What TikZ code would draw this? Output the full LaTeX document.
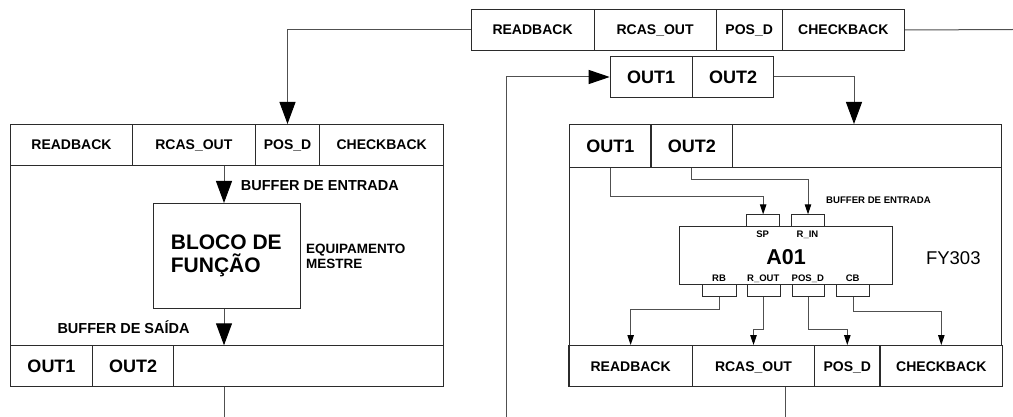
\documentclass[tikz,border=0pt]{standalone}
\usepackage{fontspec}
\setmainfont{Liberation Sans}
\usetikzlibrary{arrows.meta,calc}
\definecolor{boxc}{HTML}{2b2b2b}
\definecolor{linec}{HTML}{505050}
\tikzset{
  cell/.style={draw=boxc, line width=1pt, anchor=north west, inner sep=0pt, align=center,
               text height=10pt, text depth=0pt, font=\bfseries\fontsize{14}{16}\selectfont},
  bigcell/.style={cell, text height=13pt, font=\bfseries\fontsize{18}{20}\selectfont},
  plainbox/.style={draw=boxc, line width=1pt, anchor=north west, inner sep=0pt},
  stub/.style={draw=boxc, line width=1pt, anchor=north west, inner sep=0pt, minimum height=11.7pt},
  conn/.style={draw=linec, line width=1pt},
  bigarrow/.style={conn, -{Triangle[length=22pt,width=16pt,black]}},
  midarrow/.style={conn, -{Triangle[length=21pt,width=14pt,black]}},
  smallarrow/.style={conn, -{Triangle[length=10pt,width=6.5pt,black]}},
  lbl/.style={anchor=base west, inner sep=0pt, font=\bfseries\fontsize{14.5}{16}\selectfont},
  tiny/.style={anchor=base, inner sep=0pt, font=\bfseries\fontsize{9.5}{11}\selectfont},
}
\begin{document}
\begin{tikzpicture}[x=1pt,y=-1pt]
\useasboundingbox (0,0) rectangle (1013,417);

% ---------- top centre rows ----------
\node[cell, minimum width=122.8pt, minimum height=41pt] (tRB) at (470.7,9) {READBACK};
\node[cell, minimum width=122.2pt, minimum height=41pt] (tRC) at (593.5,9) {RCAS\_OUT};
\node[cell, minimum width=66pt,    minimum height=41pt] (tPD) at (715.7,9) {POS\_D};
\node[cell, minimum width=122.3pt, minimum height=41pt] (tCB) at (781.7,9) {CHECKBACK};

\node[bigcell, minimum width=82pt,   minimum height=41pt] (mO1) at (609.7,56) {OUT1};
\node[bigcell, minimum width=81.6pt, minimum height=41pt] (mO2) at (691.7,56) {OUT2};

% ---------- left device ----------
\node[plainbox, minimum width=433pt, minimum height=261.7pt] (lbox) at (10,124) {};
\node[cell, minimum width=122pt,   minimum height=41pt] (lRB) at (10,124)    {READBACK};
\node[cell, minimum width=122.7pt, minimum height=41pt] (lRC) at (132,124)   {RCAS\_OUT};
\node[cell, minimum width=64.6pt,  minimum height=41pt] (lPD) at (254.7,124) {POS\_D};
\node[cell, minimum width=123.7pt, minimum height=41pt] (lCB) at (319.3,124) {CHECKBACK};

\node[plainbox, minimum width=147pt, minimum height=105pt] (blk) at (153.3,203) {};
\node[anchor=base west, inner sep=0pt, font=\bfseries\fontsize{21}{23}\selectfont] (blk1) at (170.7,249.3) {BLOCO DE};
\node[anchor=base west, inner sep=0pt, font=\bfseries\fontsize{21}{23}\selectfont] (blk2) at (170.7,272.7) {FUNÇÃO};

\node[anchor=base west, inner sep=0pt, font=\bfseries\fontsize{13.5}{15}\selectfont] (eq1) at (306,253.3) {EQUIPAMENTO};
\node[anchor=base west, inner sep=0pt, font=\bfseries\fontsize{13.5}{15}\selectfont] (eq2) at (306,268.3) {MESTRE};

\node[lbl] (lbufin) at (240.7,190.7) {BUFFER DE ENTRADA};
\node[lbl] (lbufout) at (57.3,333.3) {BUFFER DE SAÍDA};

\node[plainbox, minimum width=433pt, minimum height=40.4pt] (lbot) at (10,345.3) {};
\node[bigcell, minimum width=82pt,   minimum height=40.4pt] (lO1) at (10,345.3) {OUT1};
\node[bigcell, minimum width=81.3pt, minimum height=40.4pt] (lO2) at (92,345.3) {OUT2};

% ---------- right device ----------
\node[plainbox, minimum width=432pt, minimum height=221pt] (rbox) at (569,124) {};
\node[plainbox, minimum width=432pt, minimum height=43pt] (rtop) at (569,124) {};
\node[bigcell, minimum width=81.3pt, minimum height=43pt, line width=1.3pt] (rO1) at (569,124) {OUT1};
\node[bigcell, minimum width=81.7pt, minimum height=43pt, line width=1.3pt] (rO2) at (650.3,124) {OUT2};

\node[plainbox, minimum width=213pt, minimum height=58.3pt] (a01) at (679.3,226) {};
\node[inner sep=0pt, anchor=base, font=\bfseries\fontsize{21.5}{23}\selectfont] (a01t) at (786,264) {A01};
\node[inner sep=0pt, anchor=base, font=\fontsize{18.5}{20}\selectfont] (fy) at (953.3,264) {FY303};

\node[stub, minimum width=33.3pt] (sp)  at (746,214.3) {};
\node[stub, minimum width=33pt]   (rin) at (791,214.3) {};
\node[tiny] (spl)  at (762.7,237.3) {SP};
\node[tiny] (rinl) at (807.5,237.3) {R\_IN};

\node[stub, minimum width=33.4pt] (rbS)  at (702.3,284.3) {};
\node[stub, minimum width=33.3pt] (roS)  at (746.7,284.3) {};
\node[stub, minimum width=32.3pt] (pdS)  at (791.7,284.3) {};
\node[stub, minimum width=33.3pt] (cbS)  at (836,284.3) {};
\node[tiny] (rbl) at (719,281) {RB};
\node[tiny] (rol) at (763.3,281) {R\_OUT};
\node[tiny] (pdl) at (807.8,281) {POS\_D};
\node[tiny] (cbl) at (852.7,281) {CB};

\node[anchor=base west, inner sep=0pt, font=\bfseries\fontsize{9.6}{11}\selectfont] (rbufin) at (826,204) {BUFFER DE ENTRADA};

\node[cell, minimum width=123.4pt, minimum height=41pt, line width=1.3pt] (rRB) at (568.3,345) {READBACK};
\node[cell, minimum width=122.3pt, minimum height=41pt, line width=1.3pt] (rRC) at (691.7,345) {RCAS\_OUT};
\node[cell, minimum width=65.3pt,  minimum height=41pt, line width=1.3pt] (rPD) at (814,345)   {POS\_D};
\node[cell, minimum width=122.7pt, minimum height=41pt, line width=1.3pt] (rCB) at (879.3,345) {CHECKBACK};

% ---------- free ends ----------
\coordinate (rightEnd) at (1013,29.5);
\coordinate (loopStart) at (506.7,417);
\coordinate (rEntry) at (854,124);
\coordinate (leftEnd) at (224,417);
\coordinate (rEnd) at (785,417);

% ---------- connectors ----------
\draw[bigarrow] (tRB.west) -| (lPD.north);
\draw[conn] (tCB.east) -- (rightEnd);
\draw[midarrow] (loopStart) |- (mO1.west);
\draw[bigarrow] (mO2.east) -| (rEntry);

\draw[bigarrow] (lRC.south -| leftEnd) -- (blk.north -| leftEnd);
\draw[bigarrow] (blk.south -| leftEnd) -- (lbot.north -| leftEnd);
\draw[conn] (lbot.south -| leftEnd) -- (leftEnd);

\draw[conn] (rRC.south -| rEnd) -- (rEnd);

\draw[smallarrow] (rO1.south) -- ++(0,28) -| (sp.north);
\draw[smallarrow] (rO2.south) -- ++(0,11) -| (rin.north);

\draw[smallarrow] (rbS.south) -- ++(0,12.3) -| (rRB.north);
\draw[smallarrow] (roS.south) -- ++(0,32.3) -| (rRC.north);
\draw[smallarrow] (pdS.south) -- ++(0,32.3) -| (rPD.north);
\draw[smallarrow] (cbS.south) -- ++(0,14) -| (rCB.north);
\end{tikzpicture}
\end{document}
